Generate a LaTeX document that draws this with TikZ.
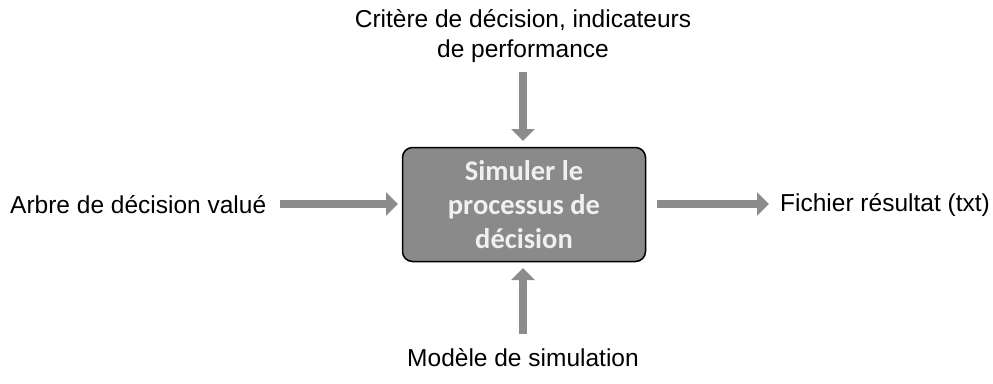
\documentclass[tikz,border=0pt]{standalone}
\usepackage{fontspec}
\setmainfont{Liberation Sans}
\newfontfamily\boxfont{Carlito}
\usetikzlibrary{arrows.meta}
\definecolor{arrowgray}{HTML}{8C8C8C}
\definecolor{boxgray}{HTML}{8A8A8A}
\definecolor{boxtext}{HTML}{F0F0F0}
\tikzset{
  flow/.style={draw=arrowgray, line width=8pt, -{Triangle[length=12pt,width=23pt]}},
  lbl/.style={font=\fontsize{24.5}{30}\selectfont, text=black, align=center, inner sep=0pt},
  procbox/.style={draw=black, line width=1.5pt, fill=boxgray, rounded corners=10pt,
    minimum width=243pt, minimum height=114pt, align=center, text=boxtext,
    font=\boxfont\bfseries\fontsize{28.5}{34}\selectfont, inner sep=0pt}
}
\begin{document}
\begin{tikzpicture}[x=1pt,y=-1pt]
\useasboundingbox (0,0) rectangle (993,383);
\node[procbox] (proc) at (524,204.5) {Simuler le\\processus de\\décision};
\node[lbl] (top) at (523,36) {Critère de décision, indicateurs\\de performance};
\node[lbl, anchor=west] (left) at (10,205) {Arbre de décision valué};
\node[lbl, anchor=west] (right) at (780,205) {Fichier résultat (txt)};
\node[lbl] (bot) at (523,358) {Modèle de simulation};
\coordinate (lt) at (280,204);
\coordinate (lh) at (398,204);
\coordinate (tt) at (523,72);
\coordinate (th) at (523,141);
\coordinate (bt) at (523,334);
\coordinate (bh) at (523,268);
\coordinate (rt) at (657,204);
\coordinate (rh) at (769,204);
\draw[flow] (lt) -- (lh);
\draw[flow] (tt) -- (th);
\draw[flow] (bt) -- (bh);
\draw[flow] (rt) -- (rh);
\end{tikzpicture}
\end{document}
